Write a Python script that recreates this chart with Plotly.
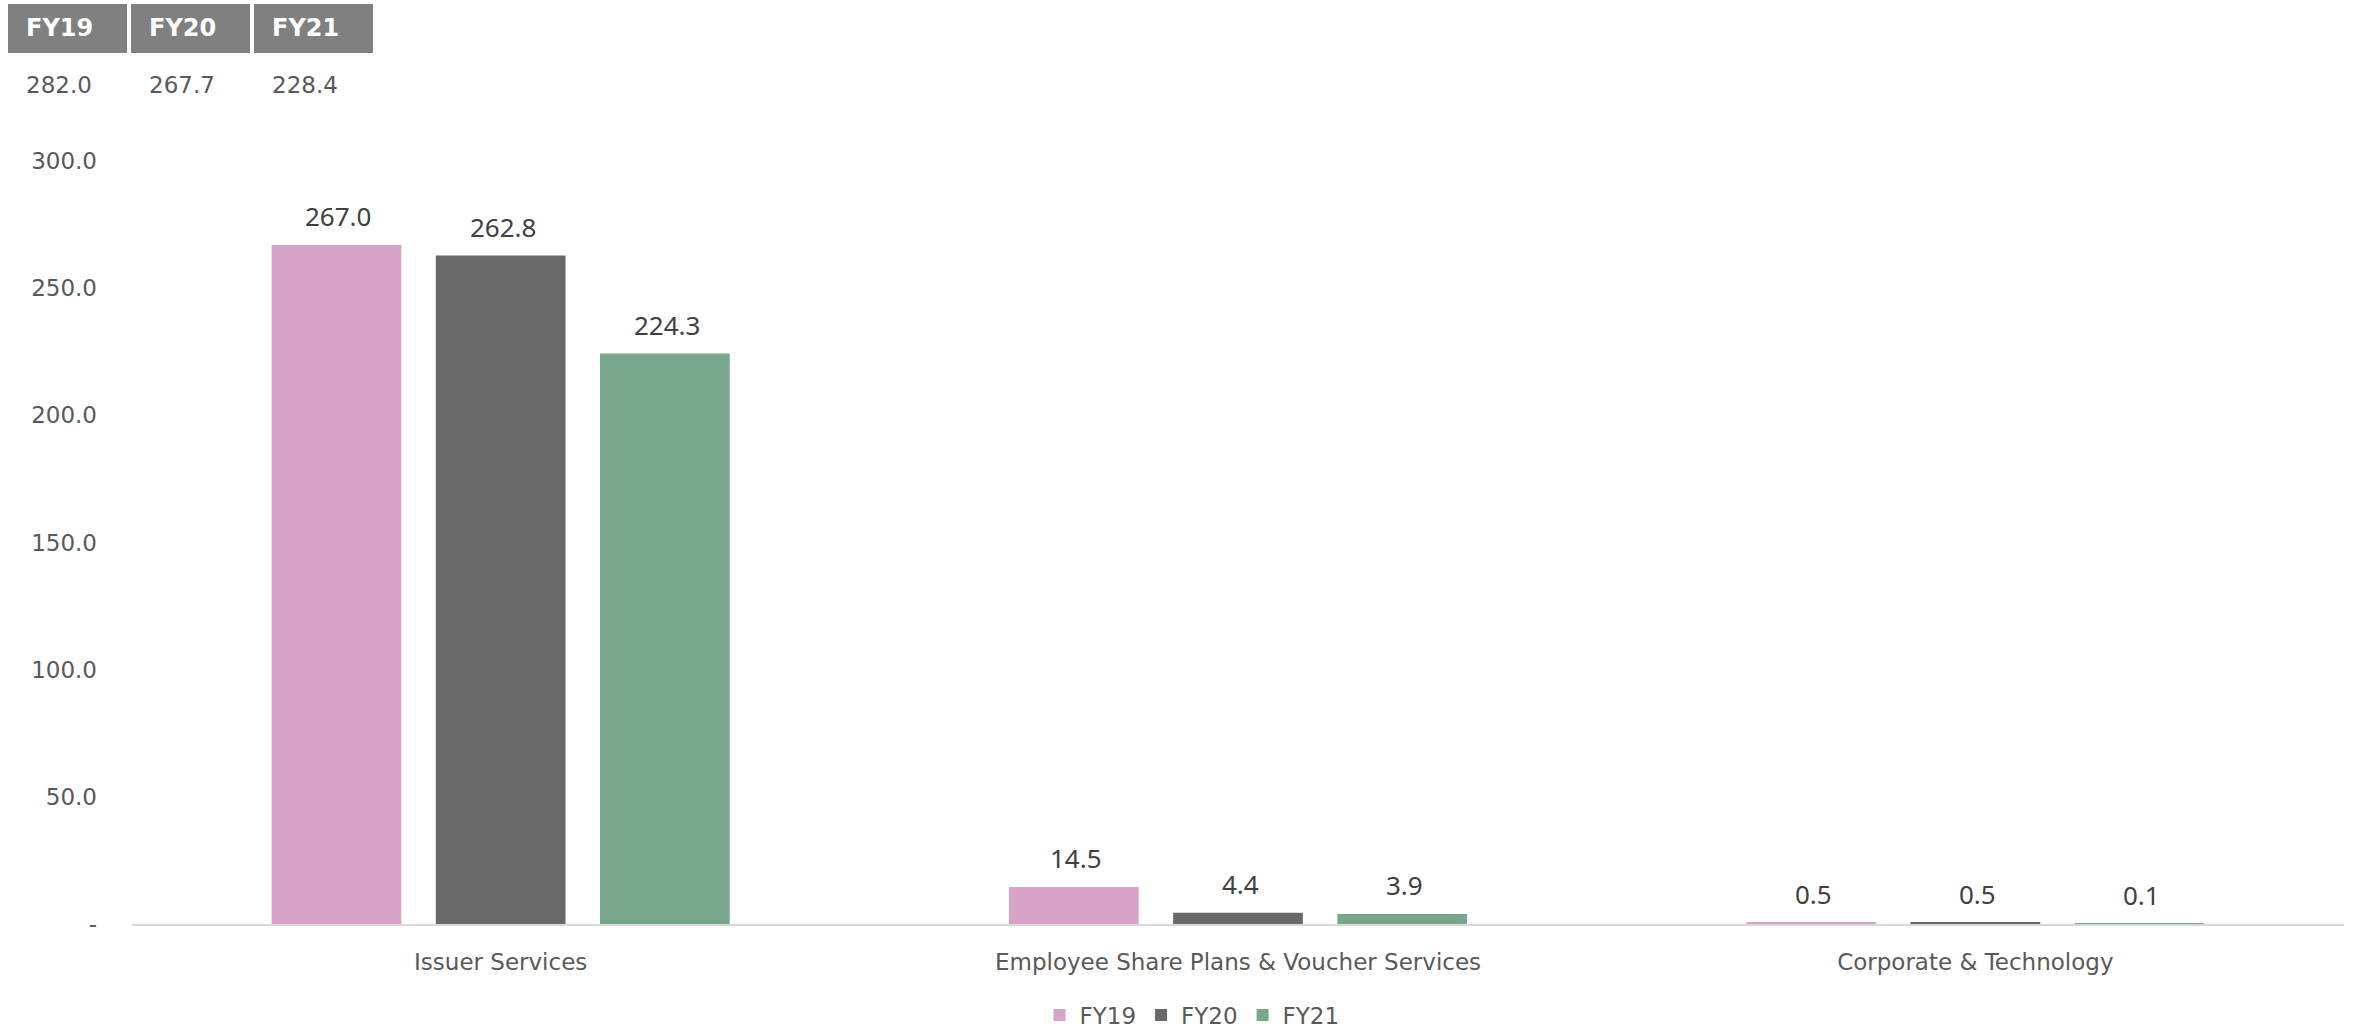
import plotly.graph_objects as go

categories = ["Issuer Services", "Employee Share Plans & Voucher Services", "Corporate & Technology"]
series_names = ["FY19", "FY20", "FY21"]
fy19 = [267.0, 14.5, 0.5]
fy20 = [262.8, 4.4, 0.5]
fy21 = [224.3, 3.9, 0.1]
totals = [282.0, 267.7, 228.4]
colors = ["#D9A3C7", "#696969", "#79A78D"]
y_ticks = [0, 50, 100, 150, 200, 250, 300]
y_tick_labels = ["-", "50.0", "100.0", "150.0", "200.0", "250.0", "300.0"]

W, H = 2361, 1028
L, R, T, B = 132, 17, 161, 104
pw, ph = W - L - R, H - T - B

def px_x(px):
    return (px - L) / pw

def px_y(py):
    return (H - B - py) / ph

fig = go.Figure()
all_series = [fy19, fy20, fy21]
for name, vals, col in zip(series_names, all_series, colors):
    fig.add_trace(go.Bar(name=name, x=categories, y=vals, marker_color=col,
                         marker_line_width=0, hoverinfo="x+y"))

annotations = []
slot = pw / 3 * (1 - 0.332) / 3
for i, (vals, name) in enumerate(zip(all_series, series_names)):
    for c, v in zip(categories, vals):
        annotations.append(dict(x=c, y=v, xref="x", yref="y", text=f"{v:.1f}",
                                showarrow=False, yanchor="bottom", xanchor="center",
                                xshift=(i - 1) * slot + 2, yshift=9,
                                font=dict(family="Noto Sans", size=26, color="#404040")))

# header table
shapes = []
box_lefts = [8, 131, 254]
box_w, box_top, box_bot = 119, 4, 53
for i, (name, tot) in enumerate(zip(series_names, totals)):
    x0 = box_lefts[i]
    shapes.append(dict(type="rect", xref="paper", yref="paper",
                       x0=px_x(x0), x1=px_x(x0 + box_w), y0=px_y(box_bot), y1=px_y(box_top),
                       fillcolor="#808080", line=dict(width=0), layer="above"))
    annotations.append(dict(x=px_x(x0 + 16), y=px_y((box_top + box_bot) / 2), xref="paper", yref="paper",
                            text=f"<b>{name}</b>", showarrow=False, xanchor="left", yanchor="middle",
                            font=dict(family="DejaVu Sans", size=24, color="#FFFFFF")))
    annotations.append(dict(x=px_x(x0 + 16), y=px_y(85), xref="paper", yref="paper",
                            text=f"{tot:.1f}", showarrow=False, xanchor="left", yanchor="middle",
                            font=dict(family="DejaVu Sans", size=23, color="#595959")))

fig.update_layout(
    width=W, height=H,
    margin=dict(l=L, r=R, t=T, b=B, autoexpand=False),
    paper_bgcolor="white", plot_bgcolor="white",
    barmode="group", bargap=0.332, bargroupgap=0.21,
    font=dict(family="DejaVu Sans", color="#595959"),
    showlegend=True,
    legend=dict(orientation="h", x=px_x(1192), y=px_y(1015), xanchor="center", yanchor="middle",
                font=dict(family="DejaVu Sans", size=23, color="#595959"),
                itemwidth=30, tracegroupgap=0),
    annotations=annotations,
    shapes=shapes,
    xaxis=dict(showgrid=False, showline=True, linecolor="#D9D9D9", linewidth=2,
               ticks="", tickfont=dict(family="DejaVu Sans", size=23, color="#595959"),
               ticklabelstandoff=16, zeroline=False),
    yaxis=dict(range=[0, 300], showgrid=False, showline=False, zeroline=False,
               tickvals=y_ticks, ticktext=y_tick_labels,
               tickfont=dict(family="DejaVu Sans", size=23, color="#595959"),
               ticklabelstandoff=34),
)

fig.write_html("out.html", config={"displayModeBar": False},
               post_script="document.body.style.margin='0';document.body.style.overflow='hidden';")
